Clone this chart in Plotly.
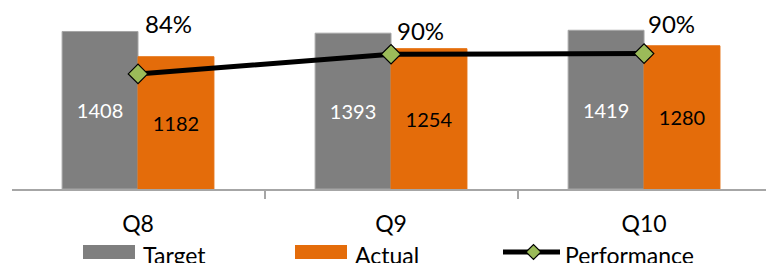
import plotly.graph_objects as go

categories = ["Q8", "Q9", "Q10"]
target = [1408, 1393, 1419]
actual = [1182, 1254, 1280]
performance = [0.84, 0.90, 0.902]
perf_labels = ["84%", "90%", "90%"]

W, H = 766, 263
ML, MR, MT, MB = 12, 0, 10, 74
PW, PH = W - ML - MR, H - MT - MB
FONT = "Lato"

def px(x):
    return (x - ML) / PW

def py(y):
    return (H - MB - y) / PH

GRAY = "#7F7F7F"
ORANGE = "#E46C0A"
GREEN = "#9BBB59"

fig = go.Figure()
fig.add_trace(go.Bar(
    x=categories, y=target, name="Target", marker_color=GRAY,
    marker_line=dict(color="#A6A6A6", width=1),
    text=[str(v) for v in target], textposition="inside", insidetextanchor="middle",
    textfont=dict(color="white", size=20, family=FONT), showlegend=False,
))
fig.add_trace(go.Bar(
    x=categories, y=actual, name="Actual", marker_color=ORANGE,
    marker_line=dict(color=ORANGE, width=1),
    text=[str(v) for v in actual], textposition="inside", insidetextanchor="middle",
    textfont=dict(color="black", size=20, family=FONT), showlegend=False,
))
fig.add_trace(go.Scatter(
    x=categories, y=performance, name="Performance", yaxis="y2", mode="lines+markers",
    line=dict(color="black", width=5),
    marker=dict(symbol="diamond", size=15, color=GREEN, line=dict(color="black", width=1.2)),
    showlegend=False, cliponaxis=False,
))

shifts = [(30, 50), (29, 24), (27, 30)]
for c, v, lab, (dx, dy) in zip(categories, performance, perf_labels, shifts):
    fig.add_annotation(x=c, y=v, xref="x", yref="y2", text=lab, showarrow=False,
                       xshift=dx, yshift=dy, xanchor="center", yanchor="middle",
                       font=dict(size=24, family=FONT, color="black"))

# manual legend
legend_items = [("rect", GRAY, 83, 135, 141, "Target"),
                ("rect", ORANGE, 295, 347, 353, "Actual"),
                ("line", "black", 503, 560, 563, "Performance")]
for kind, col, x0, x1, tx, label in legend_items:
    if kind == "rect":
        fig.add_shape(type="rect", xref="paper", yref="paper",
                      x0=px(x0), x1=px(x1), y0=py(259), y1=py(245),
                      fillcolor=col, line=dict(width=0))
    else:
        fig.add_shape(type="line", xref="paper", yref="paper",
                      x0=px(x0), x1=px(x1), y0=py(252), y1=py(252),
                      line=dict(color=col, width=5))
        cx, cy, r = (x0 + x1) / 2 + 2, 252, 7.5
        path = (f"M {px(cx - r)} {py(cy)} L {px(cx)} {py(cy - r)} "
                f"L {px(cx + r)} {py(cy)} L {px(cx)} {py(cy + r)} Z")
        fig.add_shape(type="path", xref="paper", yref="paper", path=path,
                      fillcolor=GREEN, line=dict(color="black", width=1.2))
    fig.add_annotation(x=px(tx), y=py(255), xref="paper", yref="paper", text=label,
                       showarrow=False, xanchor="left", yanchor="middle",
                       font=dict(size=23, family=FONT, color="black"))

fig.update_layout(
    width=W, height=H, margin=dict(l=ML, r=MR, t=MT, b=MB),
    paper_bgcolor="white", plot_bgcolor="white",
    barmode="group", bargap=0.40, bargroupgap=0,
    showlegend=False,
    font=dict(family=FONT, color="black"),
    xaxis=dict(range=[-0.498, 2.482], showline=True, linecolor="#A6A6A6", linewidth=1.5,
               ticks="outside", tickson="boundaries", ticklen=8, tickcolor="#A6A6A6",
               tickwidth=1.5, tickfont=dict(size=23, family=FONT, color="black"),
               ticklabelstandoff=14,
               showgrid=False, zeroline=False, fixedrange=True),
    yaxis=dict(range=[0, 1600], visible=False, showgrid=False, zeroline=False),
    yaxis2=dict(range=[0.489, 1.035], overlaying="y", side="right", visible=False,
                showgrid=False, zeroline=False),
)

fig.write_html("out.html", config={"displayModeBar": False},
               post_script="document.body.style.margin='0';document.body.style.overflow='hidden';")
